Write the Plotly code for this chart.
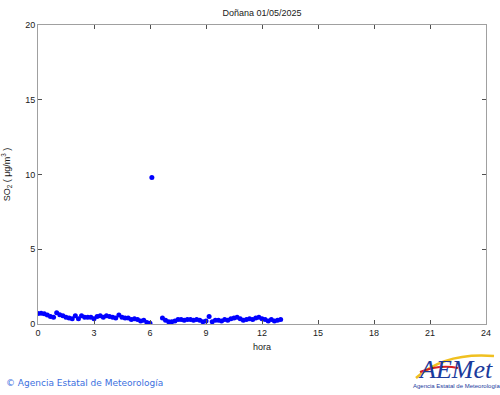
import plotly.graph_objects as go

title_text = "Doñana 01/05/2025"
x_ticks = [0, 3, 6, 9, 12, 15, 18, 21, 24]
y_ticks = [0, 5, 10, 15, 20]

hours_a = [i / 6 for i in range(0, 37)]
so2_a = [0.70, 0.72, 0.68, 0.60, 0.50, 0.45, 0.75, 0.62, 0.55, 0.45, 0.40, 0.35,
         0.55, 0.35, 0.55, 0.45, 0.45, 0.45, 0.35, 0.50, 0.55, 0.45, 0.55, 0.50,
         0.45, 0.40, 0.60, 0.45, 0.40, 0.40, 0.30, 0.35, 0.30, 0.20, 0.25, 0.10, 0.05]
hours_b = [6.1]
so2_b = [9.8]
hours_c = [40 / 6 + i / 6 for i in range(0, 39)]
so2_c = [0.40, 0.25, 0.15, 0.15, 0.20, 0.30, 0.30, 0.25, 0.30, 0.30, 0.25, 0.30,
         0.25, 0.15, 0.20, 0.50, 0.15, 0.25, 0.25, 0.20, 0.30, 0.25, 0.35, 0.40,
         0.45, 0.35, 0.25, 0.30, 0.35, 0.30, 0.40, 0.45, 0.35, 0.30, 0.20, 0.30,
         0.20, 0.25, 0.30]

hours = hours_a + hours_b + hours_c
so2 = so2_a + so2_b + so2_c

FONT = "Liberation Sans, Arial"

fig = go.Figure()
fig.add_trace(go.Scatter(x=hours, y=so2, mode="markers",
                         marker=dict(color="#0000ff", size=5, line=dict(width=0)),
                         hoverinfo="x+y"))

axis_common = dict(showline=True, linecolor="#a0a0a0", linewidth=1, mirror="ticks",
                   ticks="inside", ticklen=4, tickcolor="#505050", showgrid=False,
                   zeroline=False, automargin=False,
                   tickfont=dict(family=FONT, size=9, color="#202020"))

fig.update_layout(
    width=500, height=395,
    margin=dict(l=38, r=14, t=25, b=71),
    paper_bgcolor="white", plot_bgcolor="white",
    showlegend=False,
    title=dict(text=title_text, x=262 / 500, xanchor="center", y=1 - 13 / 395, yanchor="middle",
               font=dict(family=FONT, size=9, color="#202020")),
    xaxis=dict(range=[0, 24], tickvals=x_ticks, title=dict(text="hora", standoff=6,
               font=dict(family=FONT, size=9, color="#202020")), **axis_common),
    yaxis=dict(range=[0, 20], tickvals=y_ticks, title=dict(text="SO<sub>2</sub> ( μg/m<sup>3</sup> )", standoff=14,
               font=dict(family=FONT, size=9, color="#202020")), **axis_common),
)

fig.add_annotation(text="© Agencia Estatal de Meteorología", xref="paper", yref="paper",
                   x=-34 / 448, y=-(383 - 324) / 299, xanchor="left", yanchor="middle", showarrow=False,
                   font=dict(family="DejaVu Sans, Liberation Sans", size=9, color="#3b6fe0"))
# logo approximation
fig.add_shape(type="path", xref="paper", yref="paper",
              path="M %f %f Q %f %f %f %f" % ((416 - 38) / 448, -(378 - 324) / 299,
                                             (445 - 38) / 448, -(352 - 324) / 299,
                                             (494 - 38) / 448, -(356 - 324) / 299),
              line=dict(color="#f0c020", width=2.5))
fig.add_shape(type="path", xref="paper", yref="paper",
              path="M %f %f Q %f %f %f %f" % ((420 - 38) / 448, -(372 - 324) / 299,
                                             (440 - 38) / 448, -(364 - 324) / 299,
                                             (458 - 38) / 448, -(368 - 324) / 299),
              line=dict(color="#d42020", width=2))
fig.add_annotation(text="<i>AEMet</i>", xref="paper", yref="paper",
                   x=(455 - 38) / 448, y=-(369 - 324) / 299, xanchor="center", yanchor="middle", showarrow=False,
                   font=dict(family="Liberation Serif, DejaVu Serif", size=26, color="#1a3a9c"))
fig.add_annotation(text="Agencia Estatal de Meteorología", xref="paper", yref="paper",
                   x=(456 - 38) / 448, y=-(386 - 324) / 299, xanchor="center", yanchor="middle", showarrow=False,
                   font=dict(family=FONT, size=6, color="#1a3a9c"))

fig.write_html("out.html", config={"displayModeBar": False},
               post_script="document.body.style.margin='0';document.body.style.overflow='hidden';")
